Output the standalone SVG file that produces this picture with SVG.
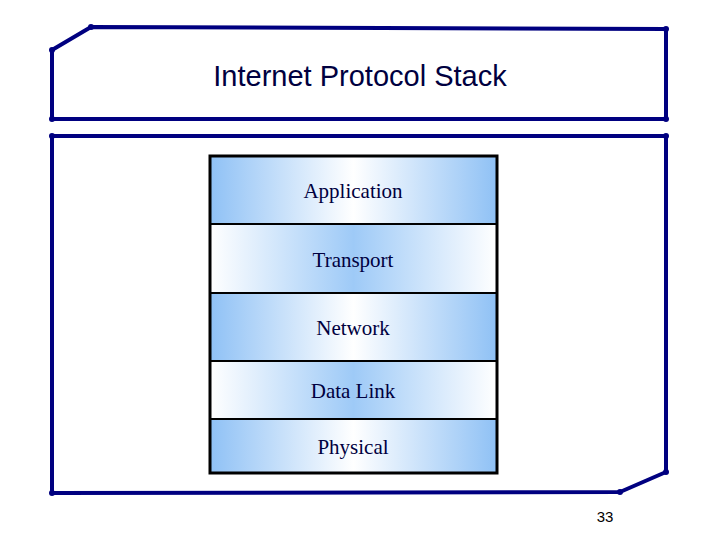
<svg xmlns="http://www.w3.org/2000/svg" width="720" height="540" viewBox="0 0 720 540">
<style>
.fr{fill:none;stroke:#000080;stroke-width:4;stroke-linejoin:round;stroke-linecap:round}
.dot{fill:#000080}
.lbl{font-family:"Liberation Serif",serif;font-size:21px;fill:#000040;text-anchor:middle}
.dv{stroke:#000;stroke-width:2}
</style>
<defs>
<linearGradient id="ga" x1="0" x2="1"><stop offset="0" stop-color="#8fc1f5"/><stop offset="0.5" stop-color="#ffffff"/><stop offset="1" stop-color="#8fc1f5"/></linearGradient>
<linearGradient id="gb" x1="0" x2="1"><stop offset="0" stop-color="#ffffff"/><stop offset="0.5" stop-color="#9ecaf7"/><stop offset="1" stop-color="#ffffff"/></linearGradient>
</defs>
<g id="frame">
<path class="fr" d="M52,50 L91,27 L666,29 L666,119 L52,119 Z"/>
<path class="fr" d="M52,136 L666,136 L666,472 L620,492 L52,493 Z"/>
<g class="dot"><circle cx="52" cy="50" r="3"/><circle cx="91" cy="27" r="3"/><circle cx="666" cy="29" r="3"/><circle cx="666" cy="119" r="3"/><circle cx="52" cy="119" r="3"/><circle cx="52" cy="136" r="3"/><circle cx="666" cy="136" r="3"/><circle cx="666" cy="472" r="3"/><circle cx="620" cy="492" r="3"/><circle cx="52" cy="493" r="3"/></g>
<text x="360" y="86" style="font-family:'Liberation Sans',sans-serif;font-size:29px;fill:#000040;text-anchor:middle">Internet Protocol Stack</text>
<text x="605" y="522" style="font-family:'Liberation Sans',sans-serif;font-size:15px;fill:#000;text-anchor:middle">33</text>
</g>
<g id="application"><rect x="210" y="156" width="287" height="68" fill="url(#ga)"/><text class="lbl" x="353" y="198">Application</text></g>
<g id="transport"><rect x="210" y="224" width="287" height="69" fill="url(#gb)"/><text class="lbl" x="353" y="267">Transport</text></g>
<g id="network"><rect x="210" y="293" width="287" height="68" fill="url(#ga)"/><text class="lbl" x="353" y="335">Network</text></g>
<g id="datalink"><rect x="210" y="361" width="287" height="58" fill="url(#gb)"/><text class="lbl" x="353" y="398">Data Link</text></g>
<g id="physical"><rect x="210" y="419" width="287" height="54" fill="url(#ga)"/><text class="lbl" x="353" y="454">Physical</text></g>
<g id="connectors">
<line class="dv" x1="210" y1="224" x2="497" y2="224"/>
<line class="dv" x1="210" y1="293" x2="497" y2="293"/>
<line class="dv" x1="210" y1="361" x2="497" y2="361"/>
<line class="dv" x1="210" y1="419" x2="497" y2="419"/>
<rect x="210" y="156" width="287" height="317" fill="none" stroke="#000" stroke-width="3"/>
</g>
</svg>
